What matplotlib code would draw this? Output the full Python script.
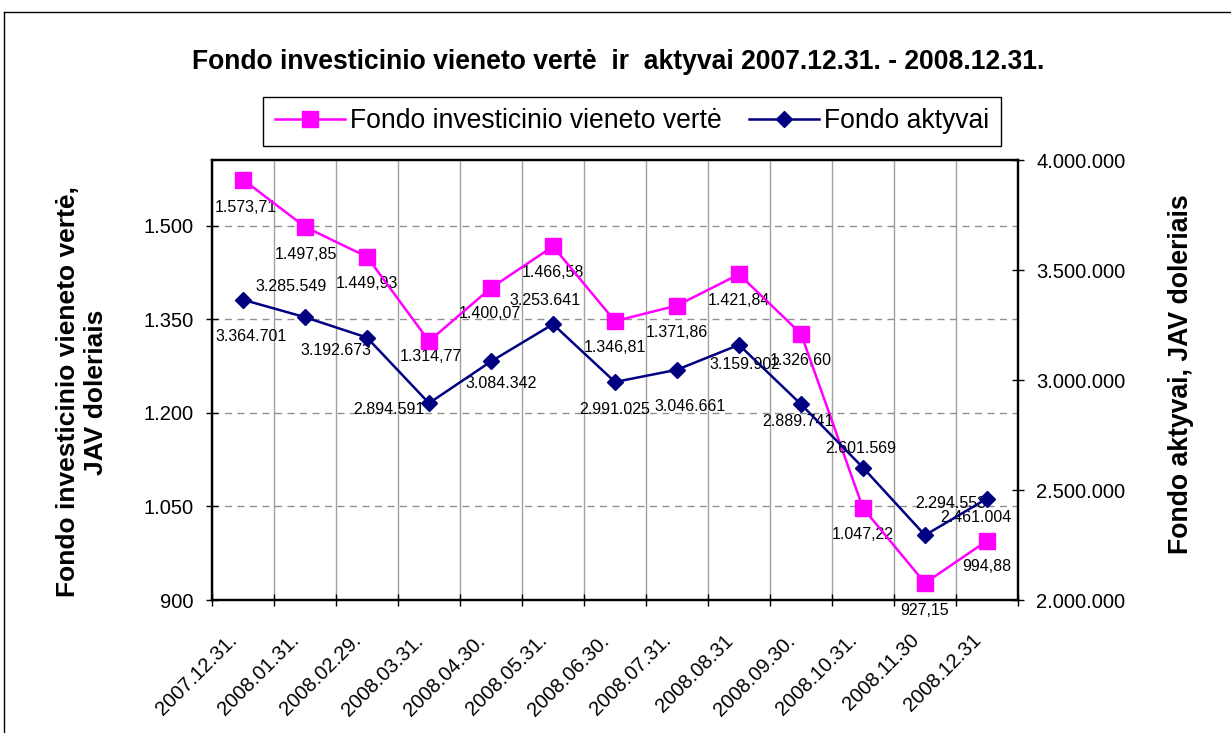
import numpy as np
import matplotlib
matplotlib.use('Agg')
import matplotlib.pyplot as plt
from matplotlib.ticker import FuncFormatter
from matplotlib.lines import Line2D
from matplotlib.transforms import ScaledTranslation

plt.rcParams['font.family'] = ['Liberation Sans', 'DejaVu Sans']

dates = ['2007.12.31.', '2008.01.31.', '2008.02.29.', '2008.03.31.', '2008.04.30.',
         '2008.05.31.', '2008.06.30.', '2008.07.31.', '2008.08.31', '2008.09.30.',
         '2008.10.31.', '2008.11.30', '2008.12.31']
unit_value = [1573.71, 1497.85, 1449.93, 1314.77, 1400.07, 1466.58, 1346.81,
              1371.86, 1421.84, 1326.60, 1047.22, 927.15, 994.88]
assets = [3364701, 3285549, 3192673, 2894591, 3084342, 3253641, 2991025,
          3046661, 3159902, 2889741, 2601569, 2294553, 2461004]

# label offsets in pixels (dx right, dy down) - hand placed like in the original
unit_offsets = [(3, 28), (1, 28), (0, 27), (2, 15), (-1, 26), (0, 26), (0, 26),
                (0, 27), (0, 26), (0, 27), (0, 26), (0, 27), (0, 26)]
asset_offsets = [(8, 37), (-14, -31), (-31, 13), (-40, 6), (10, 22), (-8, -24), (0, 28),
                 (13, 37), (6, 20), (-3, 17), (-2, -19), (26, -32), (-11, 19)]

PINK = '#FF00FF'
NAVY = '#000080'
PX = 0.72  # pixels -> points at 100 dpi


def lt_decimal(v):
    return f"{v:,.2f}".replace(',', ' ').replace('.', ',').replace(' ', '.')


def lt_int(v):
    return f"{int(round(v)):,}".replace(',', '.')


W, H = 1231, 733
fig = plt.figure(figsize=(W / 100, H / 100), dpi=100)
ax = fig.add_axes([212 / W, 133 / H, 806 / W, 440 / H])
x = np.arange(len(dates))

l1, = ax.plot(x, unit_value, color=PINK, lw=1.8, marker='s', ms=12, zorder=4,
              label='Fondo investicinio vieneto vertė')
ax.set_xlim(-0.5, len(dates) - 0.5)
ax.set_ylim(900, 1605)
ax.set_yticks([900, 1050, 1200, 1350, 1500])
ax.yaxis.set_major_formatter(FuncFormatter(lambda v, p: lt_int(v)))

ax.set_xticks(np.arange(-0.5, len(dates), 1))
ax.set_xticklabels([])
ax.set_xticks(x, minor=True)
ax.set_xticklabels(dates, minor=True, rotation=45, ha='right', va='center',
                   rotation_mode='anchor')
ax.tick_params(axis='x', which='major', direction='inout', length=9, width=1)
ax.tick_params(axis='x', which='minor', length=0, pad=27, labelsize=14.5)
ax.tick_params(axis='y', direction='inout', length=9, width=1, pad=8.5, labelsize=14.5)
# nudge the rotated date labels a little to the left (after tick_params, which resets transforms)
shift = ScaledTranslation(-9 / 100, 0, fig.dpi_scale_trans)
for lab in ax.get_xticklabels(minor=True):
    lab.set_transform(lab.get_transform() + shift)
ax.grid(axis='x', which='major', color='#a0a0a0', lw=1, ls='-')
ax.grid(axis='y', color='#909090', lw=1, ls=(0, (5, 4)))
ax.set_axisbelow(True)

for i, (v, (dx, dy)) in enumerate(zip(unit_value, unit_offsets)):
    ax.annotate(lt_decimal(v), (i, v), xytext=(dx * PX, -dy * PX), textcoords='offset points',
                ha='center', va='center', fontsize=11.5, zorder=3)

ax2 = ax.twinx()
l2, = ax2.plot(x, assets, color=NAVY, lw=1.8, marker='D', ms=8, zorder=4,
               label='Fondo aktyvai')
ax2.set_ylim(2000000, 4000000)
ax2.set_yticks(np.arange(2000000, 4000001, 500000))
ax2.yaxis.set_major_formatter(FuncFormatter(lambda v, p: lt_int(v)))
ax2.tick_params(axis='y', direction='inout', length=9, width=1, pad=8.5, labelsize=14.5)

for i, (v, (dx, dy)) in enumerate(zip(assets, asset_offsets)):
    ax2.annotate(lt_int(v), (i, v), xytext=(dx * PX, -dy * PX), textcoords='offset points',
                 ha='center', va='center', fontsize=11.5, zorder=3)

for a in (ax, ax2):
    for sp in a.spines.values():
        sp.set_linewidth(1.6)
        sp.set_color('black')

fig.text(618 / W, 1 - 62 / H,
         'Fondo investicinio vieneto vertė  ir  aktyvai 2007.12.31. - 2008.12.31.',
         ha='center', va='center', fontsize=19.1, fontweight='bold')
fig.text(82 / W, 1 - 392 / H, 'Fondo investicinio vieneto vertė,\nJAV doleriais',
         rotation=90, ha='center', va='center', fontsize=19, fontweight='bold',
         multialignment='center')
fig.text(1181 / W, 1 - 374 / H, 'Fondo aktyvai, JAV doleriais',
         rotation=90, ha='center', va='center', fontsize=19.2, fontweight='bold')

leg = fig.legend([l1, l2], [l1.get_label(), l2.get_label()], loc='center',
                 bbox_to_anchor=(632 / W, 1 - 121.5 / H), ncol=2, fontsize=19.1,
                 frameon=True, fancybox=False, edgecolor='black', framealpha=1,
                 handlelength=2.65, handletextpad=0.2, columnspacing=1.0, borderpad=0.45)
leg.get_frame().set_linewidth(1)

# chart border
fig.add_artist(Line2D([3.5 / W, 3.5 / W], [0, 1 - 11.5 / H], transform=fig.transFigure,
                      color='black', lw=1))
fig.add_artist(Line2D([3.5 / W, 1], [1 - 11.5 / H, 1 - 11.5 / H], transform=fig.transFigure,
                      color='black', lw=1))

fig.savefig('out.png', dpi=100)
